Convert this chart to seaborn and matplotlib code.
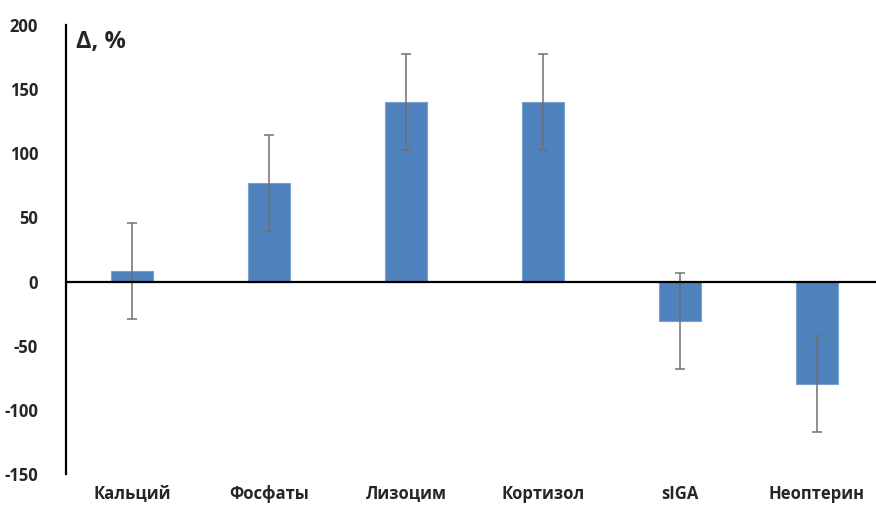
import matplotlib
matplotlib.use("Agg")
import matplotlib.pyplot as plt
import seaborn as sns
import pandas as pd

categories = ["Кальций", "Фосфаты", "Лизоцим", "Кортизол", "sIGA", "Неоптерин"]
delta = [8, 77, 140, 140, -31, -80]
errors = [37.5, 37.5, 37.5, 37.5, 37.5, 37.5]
yticks = [-150, -100, -50, 0, 50, 100, 150, 200]

sns.set_style("white")
plt.rcParams["font.family"] = ["Open Sans", "DejaVu Sans"]

df = pd.DataFrame({"category": categories, "delta": delta})

fig = plt.figure(figsize=(8.76, 5.07), dpi=100)
ax = fig.add_axes([66 / 876, 33 / 507, 822 / 876, 449 / 507])

sns.barplot(data=df, x="category", y="delta", color="#4F81BD", width=0.31,
            edgecolor="#7aa0d0", linewidth=0.8, saturation=1, ax=ax, zorder=2)
ax.errorbar(x=range(len(categories)), y=delta, yerr=errors, fmt="none",
            ecolor="#707070", elinewidth=1.1, capsize=3.5, capthick=1.1, zorder=3)

ax.axhline(0, color="black", linewidth=1.6, zorder=4)

ax.set_xlim(-0.482, len(categories) - 0.482)
ax.set_ylim(-150, 200)
ax.set_yticks(yticks)
ax.set_yticklabels([str(t) for t in yticks], fontsize=12, fontweight="bold")
ax.set_xticklabels(categories, fontsize=12, fontweight="bold")
ax.tick_params(axis="y", length=0, pad=20)
ax.tick_params(axis="x", length=0, pad=8)
ax.set_xlabel("")
ax.set_ylabel("")

for side in ["top", "right", "bottom"]:
    ax.spines[side].set_visible(False)
ax.spines["left"].set_color("black")
ax.spines["left"].set_linewidth(1.6)

ax.text(0.012, 0.962, "Δ, %", transform=ax.transAxes, fontsize=17,
        fontweight="bold", ha="left", va="center")

fig.savefig("out.png", dpi=100)
